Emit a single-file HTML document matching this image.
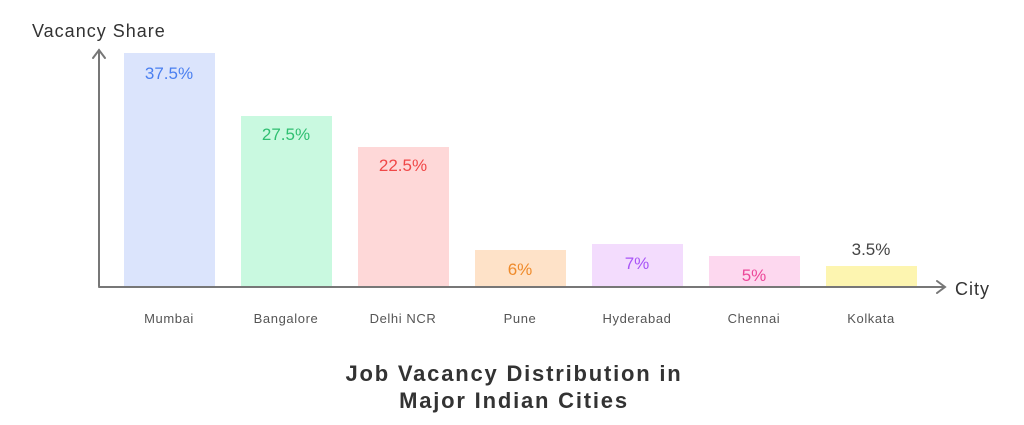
<!DOCTYPE html>
<html><head><meta charset="utf-8"><style>
body{margin:0;background:#fff;width:1024px;height:420px;overflow:hidden}
svg text{font-family:"Comic Sans MS","Liberation Sans",sans-serif}
</style></head><body>
<svg width="1024" height="420" viewBox="0 0 1024 420">
<g fill="none" stroke="#777" stroke-width="2" stroke-linecap="round">
<line x1="99" y1="286" x2="99" y2="50"/><polyline points="93,58 99,50 105,58"/>
<line x1="99" y1="287" x2="944" y2="287"/><polyline points="937,281 945,287 937,293"/>
</g>
<rect x="124" y="53" width="91" height="233" fill="#dbe4fc"/>
<rect x="241" y="116" width="91" height="170" fill="#c9f9e0"/>
<rect x="358" y="147" width="91" height="139" fill="#fed8d8"/>
<rect x="475" y="250" width="91" height="36" fill="#fee2c8"/>
<rect x="592" y="244" width="91" height="42" fill="#f3dcfd"/>
<rect x="709" y="256" width="91" height="30" fill="#fdd8ef"/>
<rect x="826" y="266" width="91" height="20" fill="#fdf5b0"/>
<g font-size="17" text-anchor="middle">
<text x="169" y="79" fill="#4a7ff0">37.5%</text>
<text x="286" y="140" fill="#2fbf71">27.5%</text>
<text x="403" y="171" fill="#f04848">22.5%</text>
<text x="520" y="275" fill="#ef8a2a">6%</text>
<text x="637" y="269" fill="#a855f7">7%</text>
<text x="754" y="281" fill="#ec4899">5%</text>
<text x="871" y="255" fill="#444">3.5%</text>
</g>
<g font-size="13" fill="#555" text-anchor="middle" letter-spacing="0.6">
<text x="169" y="323">Mumbai</text>
<text x="286" y="323">Bangalore</text>
<text x="403" y="323">Delhi NCR</text>
<text x="520" y="323">Pune</text>
<text x="637" y="323">Hyderabad</text>
<text x="754" y="323">Chennai</text>
<text x="871" y="323">Kolkata</text>
</g>
<text x="32" y="37" font-size="18" fill="#333" letter-spacing="1">Vacancy Share</text>
<text x="955" y="295" font-size="18" fill="#333" letter-spacing="1">City</text>
<g font-size="22" font-weight="bold" fill="#333" text-anchor="middle" letter-spacing="1.8">
<text x="514" y="381">Job Vacancy Distribution in</text>
<text x="514" y="408">Major Indian Cities</text>
</g>
</svg>
</body></html>
